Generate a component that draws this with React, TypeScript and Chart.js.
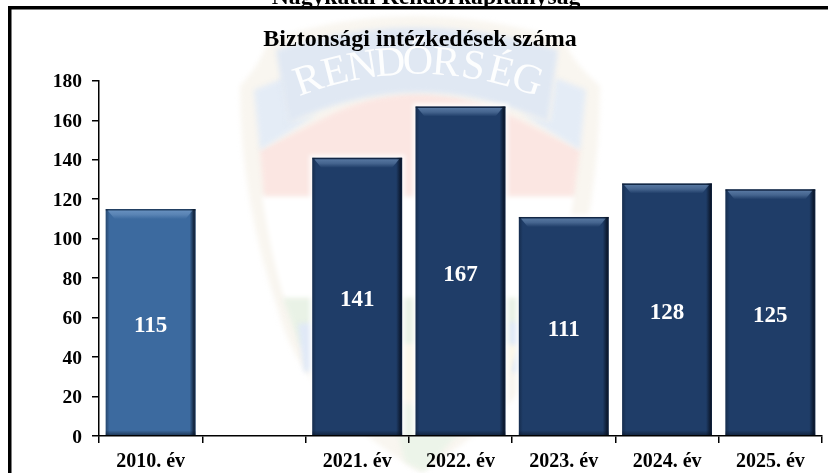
import React, { useEffect, useRef } from "react";
import { Chart, registerables } from "chart.js";

Chart.register(...registerables);

const categories = ["2010. év", "", "2021. év", "2022. év", "2023. év", "2024. év", "2025. év"];
const measures = [115, null, 141, 167, 111, 128, 125];
const barColors = ["#3c6a9f", "#1f3d68", "#1f3d68", "#1f3d68", "#1f3d68", "#1f3d68", "#1f3d68"];
const chartTitle = "Biztonsági intézkedések száma";
const clippedHeading = "Nagykátai Rendőrkapitányság";
const emblemWord = "RENDŐRSÉG";
const SERIF = "'Liberation Serif', 'Times New Roman', serif";

function poly(ctx: CanvasRenderingContext2D, color: string, pts: number[][]) {
  ctx.fillStyle = color;
  ctx.beginPath();
  pts.forEach((p, i) => (i ? ctx.lineTo(p[0], p[1]) : ctx.moveTo(p[0], p[1])));
  ctx.closePath();
  ctx.fill();
}

const backdrop = {
  id: "backdrop",
  beforeDraw(chart: any) {
    const ctx: CanvasRenderingContext2D = chart.ctx;
    ctx.save();
    ctx.fillStyle = "#ffffff";
    ctx.fillRect(0, 0, 828, 473);

    // faint police emblem watermark
    ctx.filter = "blur(2.5px)";
    ctx.fillStyle = "#f9f6f0";
    ctx.beginPath();
    ctx.moveTo(240, 86);
    ctx.quadraticCurveTo(262, 62, 268, 40);
    ctx.quadraticCurveTo(415, -8, 564, 40);
    ctx.quadraticCurveTo(572, 62, 600, 86);
    ctx.quadraticCurveTo(600, 200, 566, 310);
    ctx.quadraticCurveTo(540, 400, 420, 472);
    ctx.quadraticCurveTo(300, 400, 278, 310);
    ctx.quadraticCurveTo(240, 200, 240, 86);
    ctx.closePath();
    ctx.fill();

    ctx.fillStyle = "#ffffff";
    ctx.beginPath();
    ctx.moveTo(262, 195);
    ctx.lineTo(574, 195);
    ctx.quadraticCurveTo(565, 260, 552, 300);
    ctx.lineTo(285, 300);
    ctx.quadraticCurveTo(272, 260, 262, 195);
    ctx.closePath();
    ctx.fill();

    ctx.fillStyle = "#fbe6e2";
    ctx.beginPath();
    ctx.moveTo(260, 150);
    ctx.lineTo(320, 120);
    ctx.quadraticCurveTo(415, 68, 520, 120);
    ctx.lineTo(580, 150);
    ctx.lineTo(574, 196);
    ctx.lineTo(264, 196);
    ctx.closePath();
    ctx.fill();

    poly(ctx, "#e4ecf6", [[254, 90], [284, 78], [290, 122], [318, 114], [260, 150]]);
    poly(ctx, "#e4ecf6", [[586, 90], [556, 78], [550, 122], [522, 114], [580, 150]]);

    ctx.fillStyle = "#e0e8f3";
    ctx.beginPath();
    ctx.moveTo(276, 50);
    ctx.quadraticCurveTo(415, 5, 558, 50);
    ctx.lineTo(548, 122);
    ctx.quadraticCurveTo(415, 62, 288, 124);
    ctx.closePath();
    ctx.fill();

    poly(ctx, "#e9f2e6", [[283, 298], [552, 298], [540, 345], [300, 345]]);
    poly(ctx, "#e0e9f7", [[298, 324], [320, 322], [322, 370], [304, 372]]);
    poly(ctx, "#e0e9f7", [[508, 322], [538, 322], [530, 372], [510, 372]]);
    poly(ctx, "#fbf7e9", [[320, 345], [520, 345], [500, 400], [340, 400]]);
    poly(ctx, "#ecf4e9", [[390, 400], [470, 420], [424, 472], [405, 462]]);

    ctx.filter = "none";
    ctx.fillStyle = "rgba(255,255,255,0.92)";
    ctx.font = `42px ${SERIF}`;
    ctx.textAlign = "center";
    ctx.textBaseline = "middle";
    const cx = 418;
    const cy = 400;
    const radius = 337;
    const step = 0.0825;
    [...emblemWord].forEach((ch, i) => {
      const a = (i - (emblemWord.length - 1) / 2) * step;
      ctx.save();
      ctx.translate(cx + radius * Math.sin(a), cy - radius * Math.cos(a));
      ctx.rotate(a);
      ctx.fillText(ch, 0, 0);
      ctx.restore();
    });

    // heading cut off by the frame
    ctx.fillStyle = "#000000";
    ctx.font = `bold 23.7px ${SERIF}`;
    ctx.textAlign = "center";
    ctx.textBaseline = "alphabetic";
    ctx.fillText(clippedHeading, 426, 4);

    // outer frame, running off the photographed page
    ctx.fillRect(8, 6, 820, 3.5);
    ctx.fillRect(8, 6, 3.5, 467);
    ctx.restore();
  },
};

const barStyling = {
  id: "barStyling",
  beforeDatasetsDraw(chart: any) {
    const ctx: CanvasRenderingContext2D = chart.ctx;
    ctx.save();
    ctx.filter = "blur(2px)";
    ctx.fillStyle = "rgba(255,255,255,0.8)";
    chart.getDatasetMeta(0).data.forEach((b: any, i: number) => {
      if (measures[i] == null) return;
      ctx.fillRect(b.x - b.width / 2 - 3, b.y - 3, b.width + 6, b.base - b.y + 3);
    });
    ctx.restore();
  },
  afterDatasetsDraw(chart: any) {
    const ctx: CanvasRenderingContext2D = chart.ctx;
    const meta = chart.getDatasetMeta(0);
    meta.data.forEach((b: any, i: number) => {
      const v = measures[i];
      if (v == null) return;
      const l = b.x - b.width / 2;
      const r = b.x + b.width / 2;
      const t = b.y;
      const base = b.base;
      ctx.save();
      const hg = ctx.createLinearGradient(l, 0, r, 0);
      const lf = 4 / b.width;
      const rf = 6 / b.width;
      hg.addColorStop(0, "rgba(8,20,38,0.4)");
      hg.addColorStop(lf, "rgba(8,20,38,0)");
      hg.addColorStop(1 - rf, "rgba(5,12,26,0)");
      hg.addColorStop(1 - 1.5 / b.width, "rgba(5,12,26,0.75)");
      hg.addColorStop(1, "rgba(5,12,26,0.5)");
      ctx.fillStyle = hg;
      ctx.fillRect(l, t, r - l, base - t);

      const bottom = ctx.createLinearGradient(0, base - 5, 0, base);
      bottom.addColorStop(0, "rgba(8,18,34,0)");
      bottom.addColorStop(1, "rgba(8,18,34,0.55)");
      ctx.fillStyle = bottom;
      ctx.fillRect(l, base - 5, r - l, 5);

      ctx.fillStyle = "rgba(8,18,34,0.5)";
      ctx.fillRect(l, t, r - l, 1.5);

      const light = ctx.createLinearGradient(0, t + 2, 0, t + 10);
      light.addColorStop(0, "rgba(150,185,225,0.45)");
      light.addColorStop(0.45, "rgba(150,185,225,0.32)");
      light.addColorStop(1, "rgba(150,185,225,0)");
      ctx.fillStyle = light;
      ctx.beginPath();
      ctx.moveTo(l + 2, t + 1.5);
      ctx.lineTo(r - 3, t + 1.5);
      ctx.lineTo(r - 10, t + 10);
      ctx.lineTo(l + 9, t + 10);
      ctx.closePath();
      ctx.fill();

      ctx.fillStyle = "#ffffff";
      ctx.font = `bold 23px ${SERIF}`;
      ctx.textAlign = "center";
      ctx.textBaseline = "middle";
      ctx.fillText(String(v), b.x, (t + base) / 2 + 4);
      ctx.restore();
    });
  },
};

export default function App() {
  const ref = useRef<HTMLCanvasElement>(null);
  useEffect(() => {
    const chart = new Chart(ref.current as HTMLCanvasElement, {
      type: "bar",
      data: {
        labels: categories,
        datasets: [
          {
            data: measures,
            backgroundColor: barColors,
            barPercentage: 0.87,
            categoryPercentage: 1,
          },
        ],
      },
      options: {
        animation: false,
        responsive: false,
        layout: { padding: { left: 18, right: 6, top: 0, bottom: 0 } },
        plugins: {
          legend: { display: false },
          tooltip: { enabled: false },
          title: {
            display: true,
            text: chartTitle,
            color: "#000000",
            font: { family: SERIF, size: 24, weight: "bold", lineHeight: 1.2 },
            padding: { top: 25, bottom: 27 },
          },
        },
        scales: {
          x: {
            afterFit(s: any) {
              s.height = 37;
            },
            border: { color: "#000000", width: 1.5, z: 2 },
            grid: {
              drawOnChartArea: false,
              color: "#000000",
              lineWidth: 1.5,
              tickLength: 7,
              z: 2,
            },
            ticks: {
              color: "#000000",
              font: { family: SERIF, size: 20, weight: "bold" },
              maxRotation: 0,
              autoSkip: false,
              padding: 7,
              z: 2,
            },
          },
          y: {
            min: 0,
            max: 180,
            afterFit(s: any) {
              s.width = 81;
            },
            border: { color: "#000000", width: 1.5, z: 2 },
            grid: {
              drawOnChartArea: false,
              color: "#000000",
              lineWidth: 1.5,
              tickLength: 7,
              z: 2,
            },
            ticks: {
              stepSize: 20,
              color: "#000000",
              font: { family: SERIF, size: 19.5, weight: "bold" },
              padding: 10,
              labelOffset: 1.5,
              z: 2,
            },
          },
        },
      },
      plugins: [backdrop, barStyling],
    } as any);
    return () => chart.destroy();
  }, []);
  return (
    <canvas
      ref={ref}
      width={828}
      height={473}
      style={{ position: "absolute", left: 0, top: 0, display: "block" }}
    />
  );
}
